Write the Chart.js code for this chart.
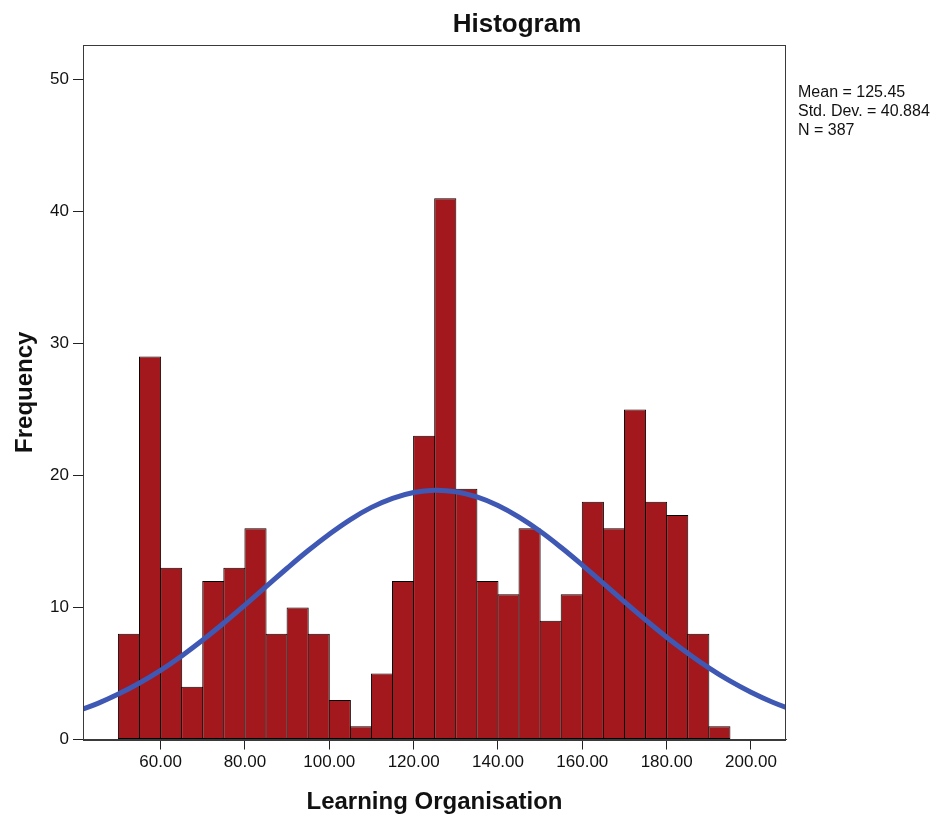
<!DOCTYPE html>
<html>
<head>
<meta charset="utf-8">
<title>Histogram</title>
<script src="https://cdn.jsdelivr.net/npm/chart.js@4"></script>
<style>
  html, body { margin: 0; padding: 0; background: #fff; }
  #wrap { width: 952px; height: 816px; }
</style>
</head>
<body>
<div id="wrap"><canvas id="hist" width="952" height="816"></canvas></div>
<script>
// bins of width 5, from 50 to 195 (bin centres)
const binCenters = [52.5, 57.5, 62.5, 67.5, 72.5, 77.5, 82.5, 87.5, 92.5, 97.5,
  102.5, 107.5, 112.5, 117.5, 122.5, 127.5, 132.5, 137.5, 142.5, 147.5,
  152.5, 157.5, 162.5, 167.5, 172.5, 177.5, 182.5, 187.5, 192.5];
const frequencies = [8, 29, 13, 4, 12, 13, 16, 8, 10, 8,
  3, 1, 5, 12, 23, 41, 19, 12, 11, 16,
  9, 11, 18, 16, 25, 18, 17, 8, 1];

// normal curve
const curveX = [40, 45, 50, 55, 60, 65, 70, 75, 80, 85, 90, 95, 100, 105, 110, 115, 120, 125,
  130, 135, 140, 145, 150, 155, 160, 165, 170, 175, 180, 185, 190, 195, 200, 205, 210];
const curveY = [2.13, 2.72, 3.44, 4.28, 5.24, 6.33, 7.53, 8.82, 10.18, 11.57, 12.97, 14.31, 15.55, 16.66, 17.58, 18.27, 18.71, 18.88,
  18.76, 18.37, 17.72, 16.84, 15.77, 14.54, 13.21, 11.82, 10.43, 9.06, 7.75, 6.54, 5.43, 4.44, 3.58, 2.84, 2.23];

const xTicks = [60, 80, 100, 120, 140, 160, 180, 200];
const yTicks = [0, 10, 20, 30, 40, 50];
const statLines = ['Mean = 125.45', 'Std. Dev. = 40.884', 'N = 387'];

const FONT = "'Liberation Sans', Arial, sans-serif";

// titles, frame and stats box drawn on the canvas
const decorations = {
  id: 'decorations',
  afterDatasetsDraw(chart) {
    const { ctx, chartArea: a } = chart;
    ctx.save();
    ctx.strokeStyle = '#3a3a3a';
    ctx.lineWidth = 1;
    ctx.strokeRect(Math.round(a.left) + 0.5, Math.round(a.top) + 0.5,
      Math.round(a.right - a.left) - 1, Math.round(a.bottom - a.top));
    ctx.restore();
  },
  afterDraw(chart) {
    const { ctx, chartArea: a } = chart;
    ctx.save();
    ctx.fillStyle = '#111';
    ctx.textBaseline = 'alphabetic';

    ctx.font = 'bold 26px ' + FONT;
    ctx.textAlign = 'center';
    ctx.fillText('Histogram', 517, 32);

    ctx.font = 'bold 24px ' + FONT;
    ctx.fillText('Learning Organisation', (a.left + a.right) / 2, 809);

    ctx.save();
    ctx.translate(32, (a.top + a.bottom) / 2);
    ctx.rotate(-Math.PI / 2);
    ctx.fillText('Frequency', 0, 0);
    ctx.restore();

    ctx.font = '16px ' + FONT;
    ctx.textAlign = 'left';
    statLines.forEach((t, i) => ctx.fillText(t, a.right + 12, 97 + i * 19));
    ctx.restore();
  }
};

new Chart(document.getElementById('hist'), {
  type: 'bar',
  data: {
    datasets: [{
      type: 'line',
      data: curveX.map((x, i) => ({ x: x, y: curveY[i] })),
      borderColor: '#3E58B4',
      borderWidth: 5,
      pointRadius: 0,
      tension: 0.4,
      fill: false,
      order: 0
    }, {
      type: 'bar',
      data: binCenters.map((x, i) => ({ x: x, y: frequencies[i] })),
      backgroundColor: '#A2181C',
      borderColor: '#000',
      borderWidth: 1,
      borderSkipped: false,
      inflateAmount: 0,
      barPercentage: 1.05,
      categoryPercentage: 1,
      order: 1
    }]
  },
  options: {
    responsive: false,
    animation: false,
    layout: { padding: { left: 0, top: 45, right: 166, bottom: 0 } },
    plugins: { legend: { display: false }, tooltip: { enabled: false } },
    scales: {
      x: {
        type: 'linear',
        offset: false,
        min: 41.6,
        max: 208.3,
        afterBuildTicks: s => { s.ticks = xTicks.map(v => ({ value: v })); },
        afterFit: s => { s.height = 76.5; },
        grid: { display: true, offset: false, drawOnChartArea: false, drawTicks: true, tickLength: 10, color: '#222' },
        border: { display: true, color: '#3a3a3a' },
        ticks: {
          color: '#111',
          font: { family: FONT, size: 17 },
          padding: 3,
          maxRotation: 0,
          callback: v => Number(v).toFixed(2)
        }
      },
      y: {
        min: 0,
        max: 52.6,
        afterBuildTicks: s => { s.ticks = yTicks.map(v => ({ value: v })); },
        afterFit: s => { s.width = 83; },
        grid: { display: true, drawOnChartArea: false, drawTicks: true, tickLength: 10, color: '#222' },
        border: { display: true, color: '#3a3a3a' },
        ticks: {
          color: '#111',
          font: { family: FONT, size: 17 },
          padding: 4
        }
      }
    }
  },
  plugins: [decorations]
});
</script>
</body>
</html>
